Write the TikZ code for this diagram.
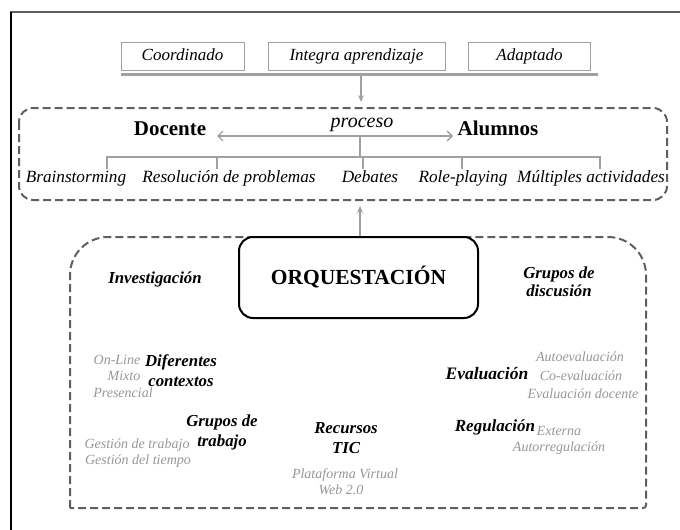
\documentclass[tikz,border=0pt]{standalone}
\usepackage{fontspec}
\setmainfont{Liberation Serif}
\usetikzlibrary{arrows.meta}
\definecolor{lgray}{RGB}{160,160,160}
\definecolor{dgray}{RGB}{95,95,95}
\definecolor{tgray}{RGB}{150,150,150}
\newcommand{\fs}[1]{\fontsize{#1}{#1}\selectfont}
\newcommand{\fsl}[2]{\fontsize{#1}{#2}\selectfont}
\tikzset{
  topbox/.style={draw=lgray, line width=0.9pt, minimum height=28pt, text height=12pt, text depth=4pt, inner sep=0pt, font=\fs{17}\itshape},
  dashbox/.style={draw=dgray, line width=2pt, dash pattern=on 8pt off 4pt},
  conn/.style={draw=lgray, line width=1.6pt},
  boldlab/.style={font=\fs{21}\bfseries, inner sep=0pt, text height=14pt, text depth=0pt},
  actlab/.style={font=\fs{17.2}\itshape, inner sep=0pt, anchor=base},
  bilab/.style={font=\fs{16.8}\bfseries\itshape, inner sep=0pt, align=center},
  graylab/.style={font=\fs{14}\itshape, text=tgray, inner sep=0pt, text height=10pt, text depth=3pt},
}
\begin{document}
\begin{tikzpicture}[x=1pt,y=-1pt]
\useasboundingbox (0,0) rectangle (680,530);
% outer frame
\draw[dgray, line width=1.8pt] (10,12) -- (681,12);
\draw[black, line width=1.3pt] (11,12) -- (11,531);
% top boxes
\node[topbox, minimum width=123pt] (coord) at (182.5,56) {Coordinado};
\node[topbox, minimum width=177pt] (integ) at (356.5,56) {Integra aprendizaje};
\node[topbox, minimum width=122pt] (adapt) at (529.5,56) {Adaptado};
\coordinate (gl) at (121,74);
\coordinate (gr) at (598,74);
\draw[lgray, line width=3pt] (gl) -- (gr);
\coordinate (a1s) at (361,74);
\coordinate (a1e) at (361,102);
\draw[conn, -{Stealth[length=7pt,width=6pt]}] (a1s) -- (a1e);
% box 1
\draw[dashbox, rounded corners=14pt] (19,108) rectangle (667,200);
\node[boldlab] (doc) at (170,128) {Docente};
\node[boldlab] (alu) at (498,128) {Alumnos};
\node[font=\fs{20}\itshape, inner sep=0pt] (proc) at (362,125) {proceso};
\coordinate (pl) at (217,136);
\coordinate (pr) at (453,136);
\draw[conn, line width=1.4pt, {Straight Barb[length=5pt,width=10pt]}-{Straight Barb[length=5pt,width=10pt]}] (pl) -- (pr);
\coordinate (stem) at (360,136);
\coordinate (stemb) at (360,157);
\coordinate (hl) at (107,157);
\coordinate (hr) at (600,157);
\draw[conn, line width=1.4pt] (stem) -- (stemb);
\draw[conn, line width=1.4pt] (hl) -- (hr);
\foreach \x/\n in {107/t1,217/t2,363/t3,462/t4,600/t5}{
  \coordinate (\n a) at (\x,156.3);
  \coordinate (\n b) at (\x,169);
  \draw[conn, line width=1.4pt] (\n a) -- (\n b);
}
\node[actlab] (brain) at (76,182) {Brainstorming};
\node[actlab] (resol) at (229,182) {Resolución de problemas};
\node[actlab] (deba) at (370,182) {Debates};
\node[actlab] (role) at (463,182) {Role-playing};
\node[actlab] (mult) at (591,182) {Múltiples actividades};
% box 2
\draw[dashbox] (70,508) -- (70,275) .. controls (70,254) and (87,237) .. (108,237)
  -- (608,237) .. controls (629,237) and (646,254) .. (646,275)
  -- (646,505) .. controls (646,507) and (645,508) .. (643,508) -- cycle;
\node[draw=black, line width=2pt, rounded corners=14pt, fill=white, minimum width=239pt, minimum height=81pt, inner sep=0pt, font=\fs{21.5}\bfseries] (orq) at (358.5,277.5) {ORQUESTACIÓN};
\coordinate (a2s) at (360,236);
\coordinate (a2e) at (360,206);
\draw[conn, -{Stealth[length=7pt,width=6pt]}] (a2s) -- (a2e);
\node[bilab] (inv) at (155,279) {Investigación};
\node[bilab, font=\fsl{16.8}{18}\bfseries\itshape] (gdis) at (559,282) {Grupos de\\discusión};
\node[bilab, font=\fsl{16.8}{20}\bfseries\itshape] (difc) at (181,371) {Diferentes\\contextos};
\node[graylab] (online) at (117,361) {On-Line};
\node[graylab] (mixto) at (124,377) {Mixto};
\node[graylab] (pres) at (123,394) {Presencial};
\node[bilab, font=\fsl{16.8}{20}\bfseries\itshape] (gtra) at (222,432) {Grupos de\\trabajo};
\node[graylab] (gest1) at (137,445) {Gestión de trabajo};
\node[graylab] (gest2) at (138,461) {Gestión del tiempo};
\node[bilab, font=\fsl{16.8}{20}\bfseries\itshape] (rtic) at (346,438) {Recursos\\TIC};
\node[graylab] (plat) at (345,475) {Plataforma Virtual};
\node[graylab] (web) at (341,491) {Web 2.0};
\node[bilab, font=\fs{17.5}\bfseries\itshape] (eval) at (487,374) {Evaluación};
\node[graylab] (auto) at (580,358) {Autoevaluación};
\node[graylab] (coev) at (581,377) {Co-evaluación};
\node[graylab] (evdo) at (583,395) {Evaluación docente};
\node[bilab, font=\fs{17}\bfseries\itshape] (regu) at (495,427) {Regulación};
\node[graylab] (exte) at (559,432) {Externa};
\node[graylab] (autr) at (559,448) {Autorregulación};
\end{tikzpicture}
\end{document}
